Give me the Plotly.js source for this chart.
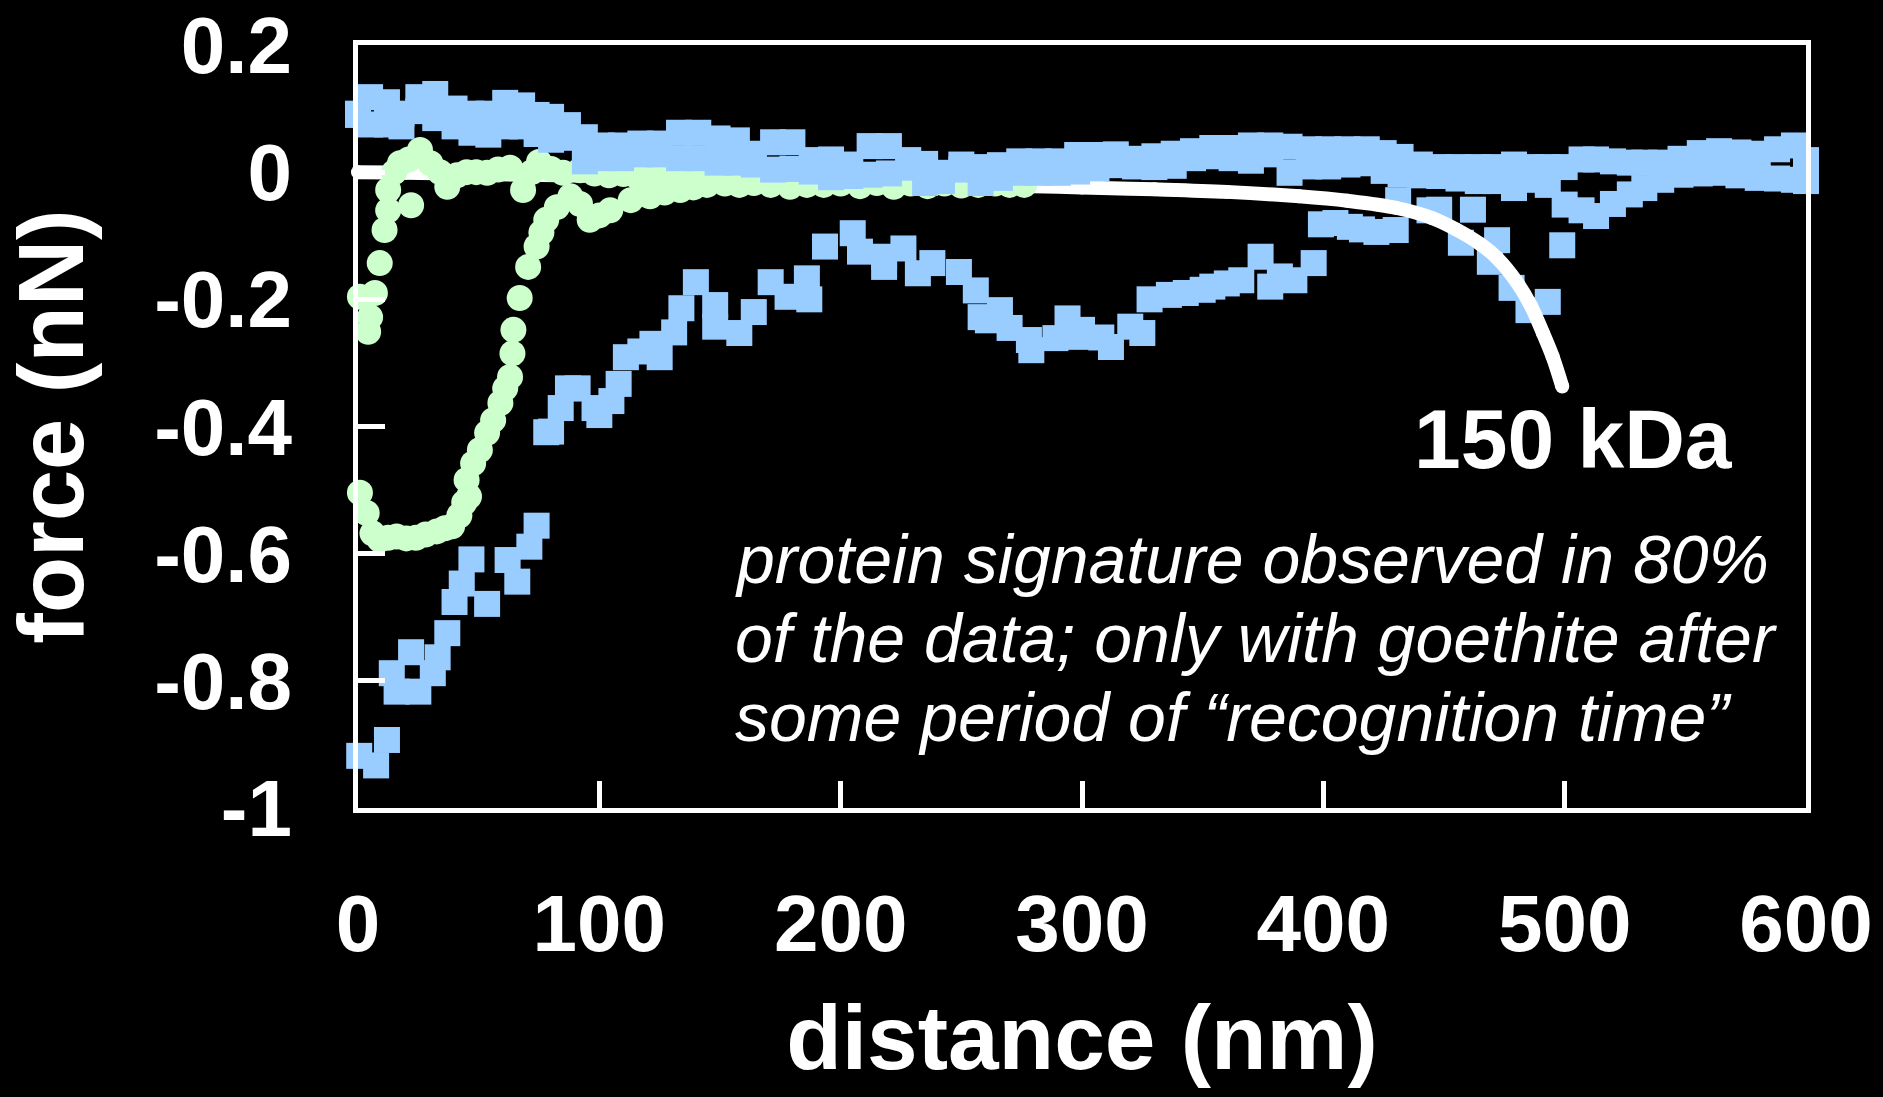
<!DOCTYPE html>
<html>
<head>
<meta charset="utf-8">
<script src="https://cdn.plot.ly/plotly-3.0.1.min.js"></script>
<style>
  html, body { margin: 0; padding: 0; background: #000; }
  #chart { width: 1883px; height: 1097px; }
</style>
</head>
<body>
<div id="chart"></div>
<script>
// ---- Data ----
// Approach curve (blue squares): band described by its upper and lower edge values
const approachDist = [0,5,12,18,25,32,40,47,54,61,68,74,80,87,94,101,109,117,125,133,141,149,157,164,172,180,188,196,204,212,220,228,235,242,250,258,266,274,282,290,298,306,314,322,330,338,346,354,362,370,378,386,394,402,410,418,425,432,440,448,456,464,471,479,486,493,500,507,513,520,527,533,540,548,556,564,572,580,588,595,600];
const approachUpper = [0.092,0.118,0.110,0.092,0.118,0.123,0.100,0.092,0.092,0.109,0.105,0.090,0.087,0.074,0.055,0.042,0.042,0.045,0.045,0.062,0.062,0.053,0.050,0.029,0.047,0.047,0.019,0.020,0.012,0.041,0.041,0.019,0.013,-0.001,0.012,0.008,0.011,0.017,0.017,0.017,0.027,0.027,0.028,0.021,0.025,0.029,0.033,0.038,0.038,0.042,0.042,0.040,0.036,0.036,0.036,0.036,0.030,0.024,0.012,0.008,0.008,0.008,0.008,0.012,0.008,0.008,0.008,0.020,0.020,0.017,0.015,0.015,0.015,0.021,0.030,0.033,0.031,0.029,0.036,0.042,0.019];
const approachLower = [0.090,0.075,0.075,0.072,0.096,0.085,0.072,0.062,0.059,0.072,0.072,0.060,0.051,0.054,0.017,0.022,0.022,0.028,0.028,0.022,0.022,0.015,0.015,0.012,0.004,0.005,0.001,-0.008,-0.006,-0.004,-0.002,0.007,-0.017,-0.014,0.004,-0.017,-0.009,-0.001,-0.001,-0.001,0.001,0.006,0.011,0.009,0.008,0.010,0.022,0.025,0.022,0.018,0.028,-0.001,0.009,0.009,0.012,0.014,0.002,-0.003,-0.005,-0.006,-0.010,-0.014,-0.014,-0.025,-0.012,-0.020,-0.051,-0.060,-0.069,-0.050,-0.035,-0.025,-0.012,-0.004,-0.002,-0.001,-0.005,-0.009,-0.010,-0.012,-0.014];

// Retraction curve (blue squares)
const retractDist = [0.5,7.5,12,14,16,22,25,31,33,37,40,43,47,53.5,62,66,71,74,78,80,84,87,91,98,100,105,108,111,117,122,125,131,134,140,148,148,158,164,171,178,186,187,193.5,205,208,218,218,226,232,238,249,256,258,261,266,270,278,279,289,294,298,300,308,312,320,325,328,336,343,350,354,360,366,374,378,382,388,396,399,405,411,416,422,430,431,444,448,457,462,469,472,478,485,493,499];
const retractForce = [-0.918,-0.933,-0.893,-0.788,-0.817,-0.755,-0.817,-0.788,-0.763,-0.725,-0.676,-0.647,-0.609,-0.679,-0.61,-0.644,-0.589,-0.556,-0.409,-0.408,-0.371,-0.34,-0.34,-0.371,-0.382,-0.36,-0.333,-0.291,-0.282,-0.27,-0.291,-0.252,-0.214,-0.173,-0.209,-0.243,-0.253,-0.22,-0.173,-0.196,-0.167,-0.2,-0.117,-0.096,-0.125,-0.149,-0.133,-0.12,-0.159,-0.143,-0.157,-0.186,-0.228,-0.233,-0.217,-0.245,-0.264,-0.28,-0.261,-0.23,-0.259,-0.248,-0.26,-0.275,-0.243,-0.253,-0.2,-0.193,-0.19,-0.185,-0.18,-0.175,-0.17,-0.133,-0.18,-0.164,-0.17,-0.143,-0.082,-0.08,-0.086,-0.09,-0.094,-0.091,-0.044,-0.06,-0.059,-0.111,-0.059,-0.141,-0.107,-0.182,-0.217,-0.204,-0.115];

// Green curve 1 (circles)
const green1Dist = [0.8,4.2,5,7,9,11,12.5,12.5,15,17.4,21,22,25.7,30,34,37,41,45,49,53.5,58,63,68.4,72,75,80,85,92,98,104,110,116,122,128,134,140,146,152,158,164,170];
const green1Force = [-0.196,-0.251,-0.228,-0.19,-0.143,-0.091,-0.06,-0.028,0.0,0.014,0.02,-0.052,0.035,0.014,0.0,-0.023,-0.005,0,0.0,-0.001,0.004,0.007,-0.028,0.0,0.016,0.005,-0.001,0.003,-0.002,-0.005,-0.003,-0.008,-0.005,-0.01,-0.006,-0.01,-0.012,-0.008,-0.015,-0.012,-0.015];

// Green curve 2 (circles)
const green2Dist = [0.8,3.6,6,9,12.5,16,20,24,28,32.6,36,39,42,44,46,45,47.7,50.5,53.5,56,59,61,63,64,64.4,67,70.5,74,76,78,82.4,88,92,96,100,104.5,113,121,127,133.5,139,144.6,152,158,164,171,179,186,193,200,208,215,222,229,236,243,250,257,264,270,276];
const green2Force = [-0.504,-0.536,-0.568,-0.578,-0.575,-0.573,-0.576,-0.575,-0.57,-0.565,-0.56,-0.557,-0.54,-0.52,-0.51,-0.484,-0.458,-0.437,-0.41,-0.39,-0.363,-0.34,-0.322,-0.285,-0.248,-0.198,-0.149,-0.117,-0.095,-0.075,-0.055,-0.038,-0.05,-0.075,-0.068,-0.06,-0.044,-0.038,-0.032,-0.028,-0.024,-0.02,-0.018,-0.02,-0.017,-0.02,-0.023,-0.02,-0.02,-0.018,-0.022,-0.017,-0.023,-0.018,-0.022,-0.018,-0.021,-0.02,-0.018,-0.02,-0.02];

// White fitted curve (150 kDa)
const fitDist = [-3,0,20,50,100,150,200,250,280,300,330,360,390,410,430,445,455,465,472,480,486,491,495,499];
const fitForce = [0,0,-0.001,-0.003,-0.006,-0.01,-0.014,-0.019,-0.022,-0.024,-0.027,-0.031,-0.038,-0.045,-0.056,-0.072,-0.09,-0.113,-0.135,-0.172,-0.21,-0.253,-0.29,-0.337];

// Axis ticks
const xTickVals = [0,100,200,300,400,500,600];
const xTickText = ['0','100','200','300','400','500','600'];
const yTickVals = [0.2,0,-0.2,-0.4,-0.6,-0.8,-1];
const yTickText = ['0.2','0','-0.2','-0.4','-0.6','-0.8','-1'];

const noteLines = [
  'protein signature observed in 80%',
  'of the data; only with goethite after',
  'some period of \u201crecognition time\u201d'
];
const fitLabel = '150 kDa';

// ---- Build traces ----
const FONT = '"Liberation Sans", Arial, Helvetica, sans-serif';
const BLUE = '#99CCFF';
const GREEN = '#CCFFCC';

const apX = [], apY = [];
approachDist.forEach((d, i) => { apX.push(d, d); apY.push(approachUpper[i], approachLower[i]); });

const traces = [
  { type: 'scatter', mode: 'markers', x: retractDist, y: retractForce, cliponaxis: false,
    marker: { symbol: 'square', size: 26, color: BLUE, line: { width: 0 } }, name: 'retract' },
  { type: 'scatter', mode: 'lines+markers', x: fitDist, y: fitForce, cliponaxis: false,
    line: { color: '#FFFFFF', width: 14, shape: 'spline' },
    marker: { size: 14, color: '#FFFFFF', line: { width: 0 } }, name: 'fit' },
  { type: 'scatter', mode: 'markers', x: green2Dist, y: green2Force, cliponaxis: false,
    marker: { symbol: 'circle', size: 26, color: GREEN, line: { width: 0 } }, name: 'green2' },
  { type: 'scatter', mode: 'markers', x: green1Dist, y: green1Force, cliponaxis: false,
    marker: { symbol: 'circle', size: 26, color: GREEN, line: { width: 0 } }, name: 'green1' },
  { type: 'scatter', mode: 'markers', x: apX, y: apY, cliponaxis: false,
    marker: { symbol: 'square', size: 26, color: BLUE, line: { width: 0 } }, name: 'approach' }
];

const axisCommon = {
  showgrid: false, zeroline: false,
  showline: true, linecolor: '#FFFFFF', linewidth: 5, mirror: true,
  ticks: 'inside', ticklen: 27, tickwidth: 5, tickcolor: '#FFFFFF',
  tickmode: 'array',
  tickfont: { family: FONT, size: 80, color: '#FFFFFF', weight: 'bold' },
  fixedrange: true
};

const annotations = [
  { text: fitLabel, x: 503.5, y: -0.42, xref: 'x', yref: 'y', xanchor: 'center', yanchor: 'middle',
    showarrow: false, font: { family: FONT, size: 84, color: '#FFFFFF', weight: 'bold' } }
];
const noteY = [-0.609, -0.733, -0.857];
noteLines.forEach((t, i) => annotations.push({
  text: t, x: 155.4, y: noteY[i], xref: 'x', yref: 'y', xanchor: 'left', yanchor: 'middle',
  showarrow: false, font: { family: FONT, size: 68, color: '#FFFFFF', style: 'italic' }
}));

const layout = {
  width: 1883, height: 1097,
  paper_bgcolor: '#000000', plot_bgcolor: '#000000',
  margin: { l: 358, r: 77, t: 45, b: 289, pad: 0 },
  showlegend: false,
  xaxis: Object.assign({}, axisCommon, {
    range: [0, 600], tickvals: xTickVals, ticktext: xTickText,
    ticklabelstandoff: 42,
    title: { text: 'distance (nm)', font: { family: FONT, size: 91, color: '#FFFFFF', weight: 'bold' }, standoff: 40 },
    automargin: false
  }),
  yaxis: Object.assign({}, axisCommon, {
    range: [-1, 0.2], tickvals: yTickVals, ticktext: yTickText,
    ticklabelstandoff: 45,
    title: { text: 'force (nN)', font: { family: FONT, size: 92, color: '#FFFFFF', weight: 'bold' }, standoff: 47 },
    automargin: false
  }),
  annotations: annotations
};

Plotly.newPlot('chart', traces, layout, { displayModeBar: false, staticPlot: true });
</script>
</body>
</html>
